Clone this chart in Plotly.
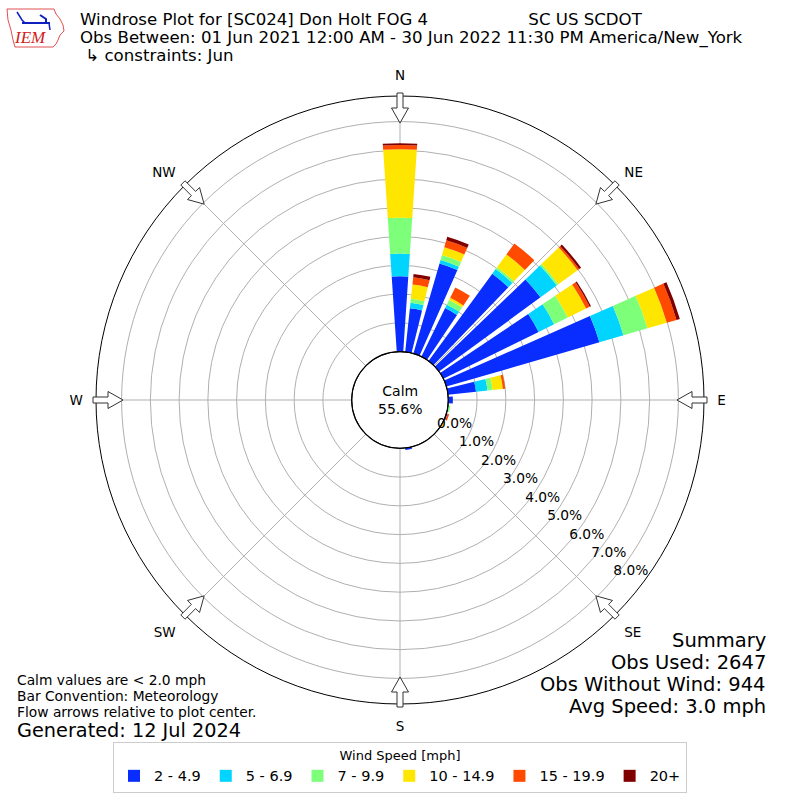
import math
import plotly.graph_objects as go

# wind direction (deg, meteorological) and frequency (%) per speed bin
directions = [0, 10, 20, 30, 40, 50, 60, 70, 80, 90, 100, 110, 120, 170]
speed_bins = ["2 - 4.9", "5 - 6.9", "7 - 9.9", "10 - 14.9", "15 - 19.9", "20+"]
bin_colors = ["#0a2dff", "#00d4ff", "#7dff7a", "#ffe600", "#ff4a00", "#800000"]

pct_2_5 = [2.62, 1.53, 3.26, 1.88, 3.76, 4.37, 3.69, 5.54, 0.98, 0.16, 0.02, 0.04, 0.0, 0.07]
pct_5_7 = [0.79, 0.19, 0.13, 0.13, 0.20, 0.70, 0.60, 0.87, 0.40, 0.0, 0.0, 0.0, 0.0, 0.0]
pct_7_10 = [1.25, 0.14, 0.18, 0.18, 0.08, 0.07, 0.53, 0.87, 0.18, 0.0, 0.06, 0.0, 0.0, 0.0]
pct_10_15 = [2.38, 0.50, 0.28, 0.09, 0.55, 0.83, 0.71, 0.70, 0.36, 0.0, 0.0, 0.0, 0.07, 0.0]
pct_15_20 = [0.15, 0.25, 0.25, 0.40, 0.47, 0.07, 0.14, 0.35, 0.08, 0.0, 0.0, 0.06, 0.0, 0.0]
pct_20_up = [0.06, 0.12, 0.13, 0.0, 0.0, 0.08, 0.05, 0.12, 0.0, 0.0, 0.0, 0.0, 0.0, 0.0]
bin_values = [pct_2_5, pct_5_7, pct_7_10, pct_10_15, pct_15_20, pct_20_up]

compass_angles = [0, 45, 90, 135, 180, 225, 270, 315]
compass_labels = ["N", "NE", "E", "SE", "S", "SW", "W", "NW"]
radial_ticks = [0, 1, 2, 3, 4, 5, 6, 7, 8]
radial_label_dir = 130
radial_max = 8.89

calm_pct = 55.6
title_lines = ["Windrose Plot for [SC024] Don Holt FOG 4", "SC US SCDOT",
               "Obs Between: 01 Jun 2021 12:00 AM - 30 Jun 2022 11:30 PM America/New_York",
               "↳ constraints: Jun"]
summary_lines = ["Summary", "Obs Used: 2647", "Obs Without Wind: 944", "Avg Speed: 3.0 mph"]
note_lines = ["Calm values are < 2.0 mph", "Bar Convention: Meteorology",
              "Flow arrows relative to plot center."]

FONT = "DejaVu Sans"
W = H = 800
CX, CY, R_OUT, R_CALM = 400, 400, 304, 48.3


def px(x, y):
    return x / W, 1 - y / H


fig = go.Figure()
for name, color, vals in zip(speed_bins, bin_colors, bin_values):
    fig.add_trace(go.Barpolar(
        r=vals, theta=directions, width=7.7, name=name,
        marker=dict(color=color, line=dict(width=0)),
    ))

# radial tick labels along the 130 deg ray
fig.add_trace(go.Scatterpolar(
    r=radial_ticks, theta=[radial_label_dir] * len(radial_ticks), mode="text",
    text=[f"{v:.1f}%" for v in radial_ticks], textposition="top right",
    textfont=dict(family=FONT, size=13.8, color="black"),
    showlegend=False, hoverinfo="skip",
))

shapes = []
# calm circle
x0, y0 = px(CX - R_CALM, CY - R_CALM)
x1, y1 = px(CX + R_CALM, CY + R_CALM)
shapes.append(dict(type="circle", xref="paper", yref="paper", x0=x0, x1=x1, y0=y1, y1=y0,
                   line=dict(color="black", width=1.2), layer="above"))

# hollow flow arrows at the 8 compass points
arrow_pts = [(307, -3), (292, -3), (292, -8.5), (277, 0), (292, 8.5), (292, 3), (307, 3)]
for b in compass_angles:
    t = math.radians(b)
    path = ""
    for i, (r, w) in enumerate(arrow_pts):
        x = CX + r * math.sin(t) + w * math.cos(t)
        y = CY - r * math.cos(t) + w * math.sin(t)
        xp, yp = px(x, y)
        path += ("M" if i == 0 else "L") + f"{xp:.5f},{yp:.5f} "
    shapes.append(dict(type="path", xref="paper", yref="paper", path=path + "Z",
                       fillcolor="white", line=dict(color="#333333", width=1), layer="above"))


def poly(points, closed=True):
    s = ""
    for i, (x, y) in enumerate(points):
        xp, yp = px(x, y)
        s += ("M" if i == 0 else "L") + f"{xp:.5f},{yp:.5f} "
    return s + ("Z" if closed else "")


# IEM logo (rough Iowa outline + station icon)
iowa = [(7, 9), (54, 9), (56, 14), (60, 19), (63, 25), (64, 31), (60, 35), (58, 40), (56, 44),
        (53, 47), (15, 47), (13, 40), (11, 30), (8, 20)]
shapes.append(dict(type="path", xref="paper", yref="paper", path=poly(iowa),
                   line=dict(color="#e05050", width=1)))
shapes.append(dict(type="path", xref="paper", yref="paper",
                   path=poly([(22, 23), (50, 23)], closed=False),
                   line=dict(color="#1020c0", width=2)))
shapes.append(dict(type="path", xref="paper", yref="paper",
                   path=poly([(17, 12), (22, 20), (25, 23)], closed=False),
                   line=dict(color="#1020c0", width=1.5)))
shapes.append(dict(type="path", xref="paper", yref="paper",
                   path=poly([(40, 15), (46, 19), (46, 23)], closed=False),
                   line=dict(color="#1020c0", width=2)))
shapes.append(dict(type="path", xref="paper", yref="paper",
                   path=poly([(49, 23), (50, 30)], closed=False),
                   line=dict(color="#1020c0", width=1.5)))

annotations = []


def txt(x, y, s, size, xanchor="left", yanchor="middle", color="black", family=FONT):
    xp, yp = px(x, y)
    annotations.append(dict(x=xp, y=yp, xref="paper", yref="paper", text=s, showarrow=False,
                            xanchor=xanchor, yanchor=yanchor, align=xanchor if xanchor != "center" else "center",
                            font=dict(family=family, size=size, color=color)))


# header: one block, small base size sets the 18px line spacing, spans set glyph size
big = '<span style="font-size:16.6px">{}</span>'
header = "<br>".join([
    big.format(title_lines[0] + "&nbsp;" * 19 + title_lines[1]),
    big.format(title_lines[2]),
    big.format("&nbsp;" + title_lines[3]),
])
txt(78, 37, header, 13.85)
txt(30, 38, "<i>IEM</i>", 17, xanchor="center", color="#d02020", family="Liberation Serif")

txt(400, 400, f"Calm<br>{calm_pct:.1f}%", 14, xanchor="center")

for i, s in enumerate(summary_lines):
    txt(768, 640 + 22 * i, s, 19.5, xanchor="right")
for i, s in enumerate(note_lines):
    txt(15, 680 + 16 * i, s, 13.8)
txt(15, 730, "Generated: 12 Jul 2024", 19.3)

fig.update_layout(
    width=W, height=H,
    margin=dict(l=0, r=0, t=0, b=0),
    paper_bgcolor="white",
    font=dict(family=FONT, color="black"),
    shapes=shapes,
    annotations=annotations,
    polar=dict(
        domain=dict(x=[0.12, 0.88], y=[0.12, 0.88]),
        hole=R_CALM / R_OUT,
        bgcolor="white",
        barmode="stack",
        angularaxis=dict(
            rotation=90, direction="clockwise",
            tickmode="array", tickvals=compass_angles, ticktext=compass_labels,
            showline=True, linecolor="black", linewidth=1,
            gridcolor="#b0b0b0", gridwidth=1,
            ticks="outside", ticklen=10, tickcolor="rgba(0,0,0,0)",
            tickfont=dict(size=13.5, color="black"),
        ),
        radialaxis=dict(
            range=[0, radial_max], tickmode="array", tickvals=radial_ticks,
            showticklabels=False, angle=-40,
            showline=False, ticks="", gridcolor="#b0b0b0", gridwidth=1,
        ),
    ),
    legend=dict(
        orientation="h", x=0.5, xanchor="center", y=1 - 742 / 800, yanchor="top",
        title=dict(text="Wind Speed [mph]", side="top center", font=dict(size=13)),
        font=dict(size=14.5), bgcolor="white", bordercolor="#cccccc", borderwidth=1,
        itemwidth=30, traceorder="normal",
    ),
)

fig.write_html("out.html", config={"displayModeBar": False},
               post_script="document.body.style.margin='0px';")
